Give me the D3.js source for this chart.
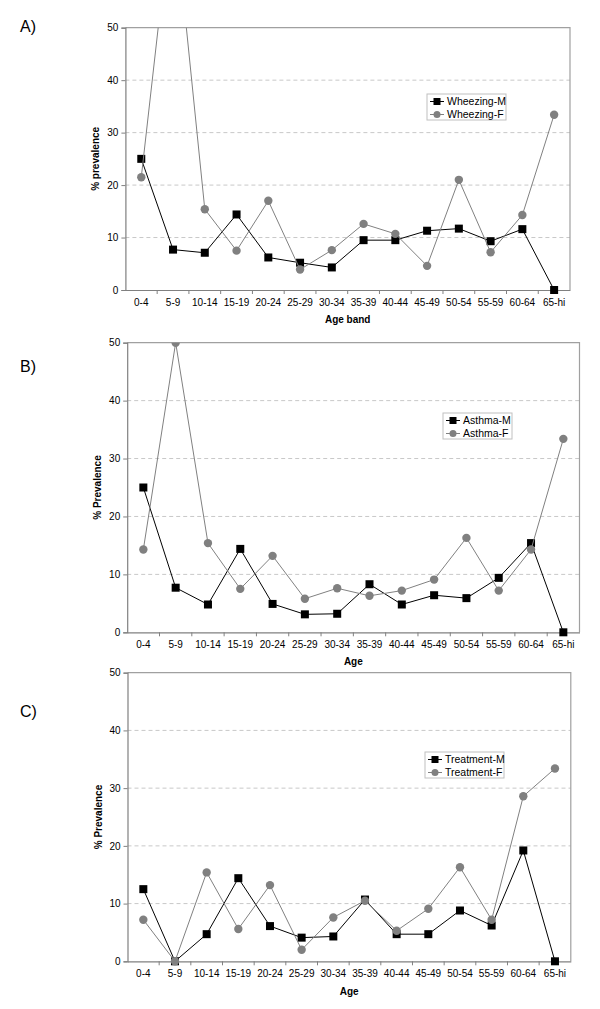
<!DOCTYPE html>
<html>
<head>
<meta charset="utf-8">
<script src="https://cdn.jsdelivr.net/npm/d3@7"></script>
<style>
  body { margin: 0; background: #fff; }
  svg { display: block; font-family: "Liberation Sans", Arial, sans-serif; }
</style>
</head>
<body>
<svg id="chart" width="600" height="1009"></svg>
<script>
var ageBands = ['0-4','5-9','10-14','15-19','20-24','25-29','30-34','35-39','40-44','45-49','50-54','55-59','60-64','65-hi'];
var yTicks = [0, 10, 20, 30, 40, 50];

var wheezingM = [25.0, 7.7, 7.1, 14.4, 6.2, 5.2, 4.3, 9.5, 9.5, 11.3, 11.7, 9.3, 11.6, 0];
var wheezingF = [21.5, 75.0, 15.4, 7.5, 17.0, 3.9, 7.6, 12.6, 10.7, 4.6, 21.0, 7.2, 14.3, 33.4];

var asthmaM = [25.0, 7.7, 4.8, 14.4, 4.9, 3.1, 3.2, 8.3, 4.8, 6.4, 5.9, 9.4, 15.4, 0];
var asthmaF = [14.3, 50.0, 15.4, 7.5, 13.2, 5.8, 7.6, 6.3, 7.2, 9.1, 16.3, 7.2, 14.3, 33.4];

var treatmentM = [12.5, 0, 4.7, 14.4, 6.1, 4.1, 4.3, 10.7, 4.7, 4.7, 8.8, 6.2, 19.2, 0];
var treatmentF = [7.2, 0, 15.4, 5.6, 13.2, 2.0, 7.6, 10.5, 5.3, 9.1, 16.3, 7.2, 28.6, 33.4];

var panels = [
  { tag: 'A)', yTitle: '% prevalence', xTitle: 'Age band', names: ['Wheezing-M', 'Wheezing-F'], m: wheezingM, f: wheezingF,
    box: { l: 125.4, r: 570, t: 27.7, b: 290 }, label: { x: 20, y: 32 }, legend: { x: 427, y: 94, w: 79 }, xTitleY: 323 },
  { tag: 'B)', yTitle: '% Prevalence', xTitle: 'Age', names: ['Asthma-M', 'Asthma-F'], m: asthmaM, f: asthmaF,
    box: { l: 127.2, r: 579.5, t: 342.7, b: 632.3 }, label: { x: 20, y: 372 }, legend: { x: 443, y: 413, w: 69 }, xTitleY: 665 },
  { tag: 'C)', yTitle: '% Prevalence', xTitle: 'Age', names: ['Treatment-M', 'Treatment-F'], m: treatmentM, f: treatmentF,
    box: { l: 127.5, r: 570.8, t: 672.7, b: 961.3 }, label: { x: 20, y: 717 }, legend: { x: 425, y: 752, w: 79 }, xTitleY: 995 }
];

var svg = d3.select('#chart');
var gray = '#808080';

panels.forEach(function(p, i) {
  var g = svg.append('g');
  var bx = p.box;

  var x = d3.scaleBand().domain(ageBands).range([bx.l, bx.r]);
  var y = d3.scaleLinear().domain([0, 50]).range([bx.b, bx.t]);

  g.append('text').attr('x', p.label.x).attr('y', p.label.y)
    .attr('font-size', 16).attr('fill', '#000').text(p.tag);

  // dashed grid
  g.selectAll('.grid').data(yTicks.slice(1, -1)).enter().append('line')
    .attr('x1', bx.l).attr('x2', bx.r)
    .attr('y1', function(d) { return y(d); }).attr('y2', function(d) { return y(d); })
    .attr('stroke', '#c8c8c8').attr('stroke-dasharray', '4,3').attr('stroke-width', 1);

  // plot border (top, right)
  g.append('path')
    .attr('d', 'M' + bx.l + ',' + bx.t + 'H' + bx.r + 'V' + bx.b)
    .attr('fill', 'none').attr('stroke', '#a0a0a0').attr('stroke-width', 1.2);

  // y axis
  var yAxis = d3.axisLeft(y).tickValues(yTicks).tickSize(4).tickPadding(3);
  var ya = g.append('g').attr('transform', 'translate(' + bx.l + ',0)').call(yAxis);
  ya.select('.domain').attr('stroke', gray).attr('stroke-width', 1.2);
  ya.selectAll('.tick line').attr('stroke', gray);
  ya.selectAll('text').attr('font-size', 10).attr('fill', '#000')
    .attr('font-family', '"Liberation Sans", Arial, sans-serif');

  // x axis
  var xAxis = d3.axisBottom(x).tickSize(0).tickPadding(9);
  var xa = g.append('g').attr('transform', 'translate(0,' + bx.b + ')').call(xAxis);
  xa.select('.domain').attr('stroke', gray).attr('stroke-width', 1.2);
  xa.selectAll('text').attr('font-size', 10).attr('fill', '#000')
    .attr('font-family', '"Liberation Sans", Arial, sans-serif');
  xa.selectAll('.sep').data(ageBands.slice(1)).enter().append('line')
    .attr('x1', function(d) { return x(d); }).attr('x2', function(d) { return x(d); })
    .attr('y1', 0).attr('y2', 4).attr('stroke', gray);

  // titles
  g.append('text').attr('x', (bx.l + bx.r) / 2).attr('y', p.xTitleY)
    .attr('text-anchor', 'middle').attr('font-size', 10).attr('font-weight', 'bold').text(p.xTitle);
  g.append('text')
    .attr('transform', 'translate(' + (bx.l - 26) + ',' + ((bx.t + bx.b) / 2) + ') rotate(-90)')
    .attr('text-anchor', 'middle').attr('font-size', 10).attr('font-weight', 'bold').text(p.yTitle);

  // clip to plot area
  var clipId = 'clip' + i;
  svg.append('clipPath').attr('id', clipId).append('rect')
    .attr('x', bx.l - 6).attr('y', bx.t).attr('width', bx.r - bx.l + 12).attr('height', bx.b - bx.t + 8);
  var plot = g.append('g').attr('clip-path', 'url(#' + clipId + ')');

  var cx = function(d, j) { return x(ageBands[j]) + x.bandwidth() / 2; };
  var line = d3.line().x(cx).y(function(d) { return y(d); });

  // male series first, female drawn over it
  plot.append('path').datum(p.m).attr('d', line)
    .attr('fill', 'none').attr('stroke', '#000').attr('stroke-width', 1);
  plot.selectAll('.mpt').data(p.m).enter().append('rect')
    .attr('x', function(d, j) { return cx(d, j) - 4; }).attr('y', function(d) { return y(d) - 4; })
    .attr('width', 8).attr('height', 8).attr('fill', '#000');

  plot.append('path').datum(p.f).attr('d', line)
    .attr('fill', 'none').attr('stroke', gray).attr('stroke-width', 1);
  plot.selectAll('.fpt').data(p.f).enter().append('circle')
    .attr('cx', cx).attr('cy', function(d) { return y(d); }).attr('r', 4.2)
    .attr('fill', gray);

  // legend
  var lg = g.append('g').attr('transform', 'translate(' + p.legend.x + ',' + p.legend.y + ')');
  lg.append('rect').attr('width', p.legend.w).attr('height', 26)
    .attr('fill', '#fff').attr('stroke', '#c0c0c0').attr('stroke-width', 1);
  [0, 1].forEach(function(k) {
    var ly = 7.5 + k * 13;
    lg.append('line').attr('x1', 3).attr('x2', 17).attr('y1', ly).attr('y2', ly)
      .attr('stroke', k ? gray : '#000');
    if (k) {
      lg.append('circle').attr('cx', 10).attr('cy', ly).attr('r', 3.5).attr('fill', gray);
    } else {
      lg.append('rect').attr('x', 6.5).attr('y', ly - 3.5).attr('width', 7).attr('height', 7).attr('fill', '#000');
    }
    lg.append('text').attr('x', 20).attr('y', ly + 3.5).attr('font-size', 10.5).text(p.names[k]);
  });
});
</script>
</body>
</html>
